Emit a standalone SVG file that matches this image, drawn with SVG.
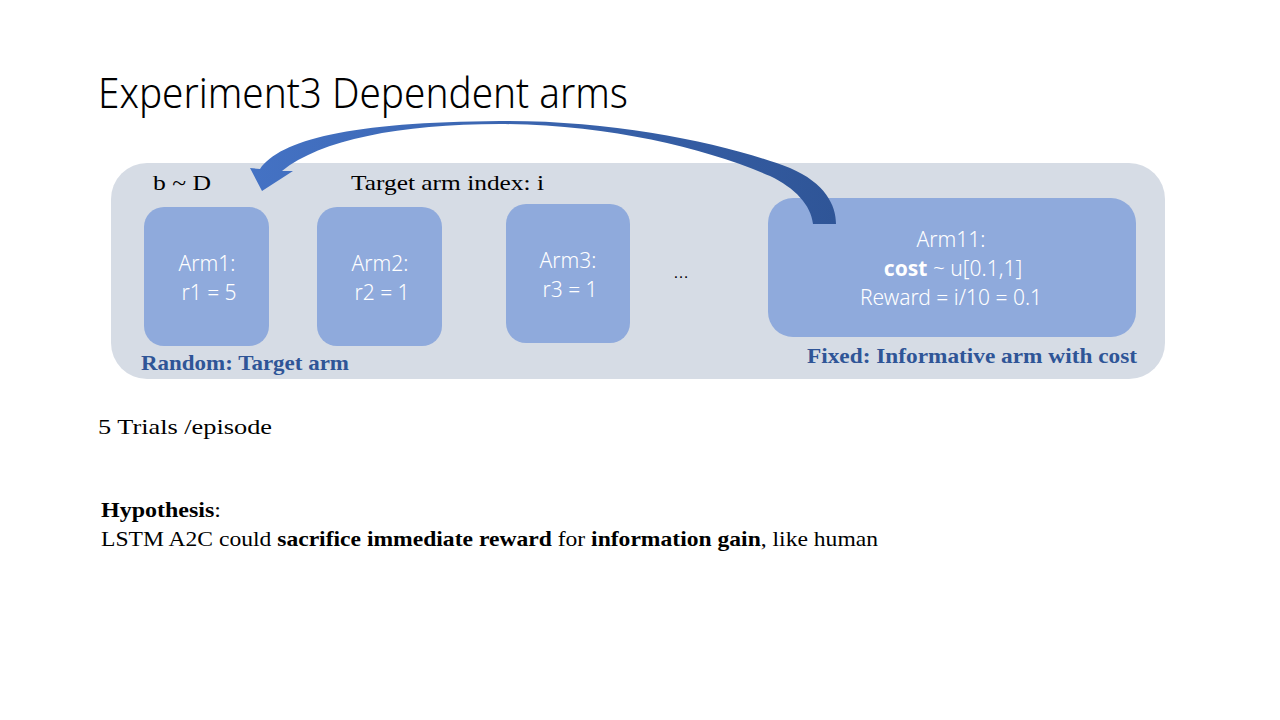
<svg xmlns="http://www.w3.org/2000/svg" width="1280" height="720" viewBox="0 0 1280 720">
  <defs>
    <linearGradient id="arrowGrad" x1="250" y1="0" x2="836" y2="0" gradientUnits="userSpaceOnUse">
      <stop offset="0" stop-color="#4472C4"/>
      <stop offset="1" stop-color="#2F5597"/>
    </linearGradient>
  </defs>
  <style>
    .title { font-family: "Noto Sans", "Open Sans", sans-serif; font-weight: 300; font-size: 42px; fill: #000; }
    .panel { fill: #D6DCE5; }
    .arm { fill: #8FAADC; }
    .armtxt { font-family: "Noto Sans", "Open Sans", sans-serif; font-weight: 300; font-size: 21px; fill: #fff; text-anchor: middle; }
    .serif { font-family: "Liberation Serif", "DejaVu Serif", serif; font-size: 21px; fill: #000; }
    .tag { font-family: "Liberation Serif", "DejaVu Serif", serif; font-weight: bold; font-size: 21px; fill: #2F5597; }
  </style>
  <rect width="1280" height="720" fill="#fff"/>

  <text class="title" x="98" y="108" textLength="530" lengthAdjust="spacingAndGlyphs">Experiment3 Dependent arms</text>

  <g id="panel">
    <rect class="panel" x="111" y="163" width="1054" height="216" rx="36"/>
    <text class="serif" x="153" y="190" textLength="58" lengthAdjust="spacingAndGlyphs">b ~ D</text>
    <text class="serif" x="351" y="190" textLength="193" lengthAdjust="spacingAndGlyphs">Target arm index: i</text>
    <text class="tag" x="141" y="370" textLength="208" lengthAdjust="spacingAndGlyphs">Random: Target arm</text>
    <text class="tag" x="807" y="363" textLength="330" lengthAdjust="spacingAndGlyphs">Fixed: Informative arm with cost</text>
    <text x="681" y="278" font-family="Liberation Sans, sans-serif" font-size="16" fill="#000" text-anchor="middle">…</text>
  </g>

  <g id="arm1">
    <rect class="arm" x="144" y="207" width="125" height="139" rx="20"/>
    <text class="armtxt" x="207" y="271">Arm1:</text>
    <text class="armtxt" x="209" y="300">r1 = 5</text>
  </g>
  <g id="arm2">
    <rect class="arm" x="317" y="207" width="125" height="139" rx="20"/>
    <text class="armtxt" x="380" y="271">Arm2:</text>
    <text class="armtxt" x="382" y="300">r2 = 1</text>
  </g>
  <g id="arm3">
    <rect class="arm" x="506" y="204" width="124" height="139" rx="20"/>
    <text class="armtxt" x="568" y="268">Arm3:</text>
    <text class="armtxt" x="570" y="297">r3 = 1</text>
  </g>
  <g id="arm11">
    <rect class="arm" x="768" y="198" width="368" height="139" rx="25"/>
    <text class="armtxt" x="951" y="247">Arm11:</text>
    <text class="armtxt" x="953" y="276"><tspan font-weight="bold">cost</tspan> ~ u[0.1,1]</text>
    <text class="armtxt" x="951" y="305">Reward = i/10 = 0.1</text>
  </g>

  <g id="connectors">
    <!-- curved block arrow from Arm11 back to Arm1: thick at both ends, thin over the crest -->
    <path fill="url(#arrowGrad)" d="M260,169 C280,140 350,122 500,121 C620,120 730,145 790,168 C825,183 836,205 836,224 L813,224 C811,205 795,188 770,176 C705,148 610,125 500,124 C400,124 320,140 282,171 L293,171 L262,191 L250,168 Z"/>
  </g>

  <text class="serif" x="98" y="434" textLength="174" lengthAdjust="spacingAndGlyphs">5 Trials /episode</text>

  <g id="hypothesis">
    <text class="serif" x="101" y="517" textLength="120" lengthAdjust="spacingAndGlyphs"><tspan font-weight="bold">Hypothesis</tspan>:</text>
    <text class="serif" x="101" y="546" textLength="777" lengthAdjust="spacingAndGlyphs">LSTM A2C could <tspan font-weight="bold">sacrifice immediate reward</tspan> for <tspan font-weight="bold">information gain</tspan>, like human</text>
  </g>
</svg>
